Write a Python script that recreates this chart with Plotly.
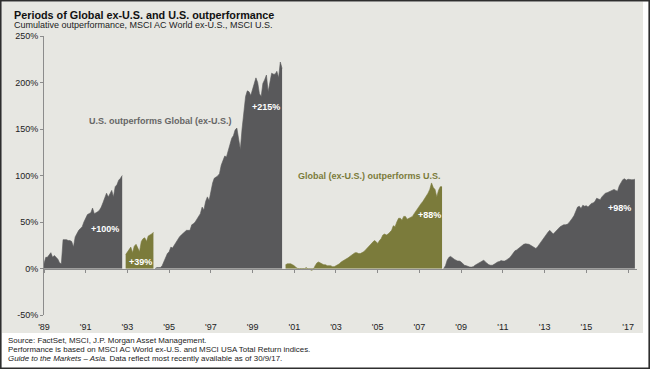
import plotly.graph_objects as go
import pandas as pd

# ---------------- data (cumulative relative outperformance, %) ----------------
# Each period resets to zero; monthly values.
us1_start = "1989-01-01"
us1_values = [5, 12, 12, 14, 17, 12, 14, 12, 10, 6, 5, 31, 31, 31, 30, 30, 29, 23,
              34, 38, 41, 43, 45, 50, 54, 58, 59, 60, 65, 59, 60, 61, 63, 66, 71,
              75, 81, 77, 81, 84, 77, 88, 90, 95, 97, 100]

gl1_start = "1992-12-01"
gl1_values = [15, 18, 20, 23, 17, 24, 26, 22, 18, 29, 32, 33, 29, 35, 36, 37, 39]

us2_start = "1994-05-01"
us2_values = [0, 1, 1, 1, 3, 8, 13, 16, 18, 23, 22, 25, 29, 31, 34, 36, 38, 40, 41,
              41, 41, 47, 48, 50, 53, 56, 59, 66, 63, 72, 77, 73, 84, 92, 97, 98,
              99.5, 102, 111, 116, 121, 120, 127, 131, 140, 143, 149, 151, 141, 128,
              150, 172, 185, 191, 190, 186, 193, 198, 205, 200, 188, 185, 199, 203,
              208, 190, 200, 210, 209, 209, 212, 205, 222, 215]

gl2_start = "2000-08-01"
gl2_values = [4, 5, 5, 5, 4, 3, 1, 0, -1, 0, -1, 0, 1, -1, -1, -2, -1, 3, 6, 7, 6, 5,
              4, 4, 3, 3, 3, 2, 2, 3, 4, 5, 7, 8, 9, 10, 11.5, 13, 14.5, 16, 17, 17,
              16, 16, 17, 18, 20, 22, 25, 27, 29, 30, 29, 27, 30, 32, 36, 37, 36, 37,
              39, 41, 46, 45, 50, 54, 54, 52, 56, 56, 53, 54, 55, 56, 59, 62, 64, 67,
              70, 72, 75, 77, 81, 85, 92, 87, 85, 77, 84, 88, 88]

us3_start = "2008-03-01"
us3_values = [0, 3, 9, 12, 13, 11, 10, 9, 8, 8, 7, 5, 3.5, 3, 2, 1.5, 1.5, 2, 3.5,
              4.5, 6, 7, 8, 9, 7, 5, 4, 3.5, 3.5, 4.5, 6, 7, 7.5, 8.5, 8, 8, 9, 10,
              11.5, 14, 16.5, 19, 20, 21.7, 23, 25, 26, 26.5, 26.5, 26, 25, 24, 23,
              21.5, 23.5, 26, 29, 32, 35, 37, 39, 41, 39, 37, 39, 41.4, 43, 45, 46,
              47, 47, 47.5, 49, 51, 54, 57, 62, 66, 67, 64.5, 68, 67, 67.5, 66, 68,
              70, 70.5, 72, 75.5, 75, 74, 77, 79, 81, 81.5, 82.6, 83.5, 84.4, 85,
              84, 83, 89, 93, 95.5, 96.5, 95, 96, 95.5, 95.5, 95.5, 96]

tick_dates = ["1989-01-01", "1991-01-01", "1993-01-01", "1995-01-01", "1997-01-01",
              "1999-01-01", "2001-01-01", "2003-01-01", "2005-01-01", "2007-01-01",
              "2009-01-01", "2011-01-01", "2013-01-01", "2015-01-01", "2017-01-01"]
tick_labels = ["'89", "'91", "'93", "'95", "'97", "'99", "'01", "'03", "'05", "'07",
               "'09", "'11", "'13", "'15", "'17"]
y_ticks = [-50, 0, 50, 100, 150, 200, 250]
y_tick_labels = ["-50%", "0%", "50%", "100%", "150%", "200%", "250%"]

US_COLOR = "#59595b"
GL_COLOR = "#7b7b3b"
PANEL = "#e7e7e2"
FONT = "Liberation Sans, Arial, sans-serif"
W, H = 650, 369

fig = go.Figure()
segments = [(us1_start, us1_values, US_COLOR), (gl1_start, gl1_values, GL_COLOR),
            (us2_start, us2_values, US_COLOR), (gl2_start, gl2_values, GL_COLOR),
            (us3_start, us3_values, US_COLOR)]
for start, vals, col in segments:
    dates = pd.date_range(start, periods=len(vals), freq="MS")
    fig.add_trace(go.Scatter(x=dates, y=vals, mode="lines", fill="tozeroy",
                             line=dict(color=col, width=0.6), fillcolor=col,
                             hoverinfo="skip", showlegend=False))

def px(x):
    return x / W

def py(y):
    return 1 - y / H

fig.update_layout(
    width=W, height=H,
    margin=dict(l=0, r=0, t=0, b=0, autoexpand=False),
    paper_bgcolor="white", plot_bgcolor="rgba(0,0,0,0)",
    font=dict(family=FONT, color="#222222"),
    showlegend=False,
    xaxis=dict(type="date", domain=[px(44), px(637)],
               range=["1989-01-01", "2017-06-07"],
               anchor="free", position=py(268.5), automargin=False,
               showline=True, linecolor="#8c8c8c", linewidth=1,
               ticks="outside", ticklen=3, tickcolor="#8c8c8c",
               tickvals=tick_dates, ticktext=tick_labels,
               tickfont=dict(size=9, color="#222222"),
               ticklabelstandoff=47,
               showgrid=False, zeroline=False),
    yaxis=dict(domain=[py(315), py(36)], range=[-50, 250], automargin=False,
               tickvals=y_ticks, ticktext=y_tick_labels,
               showline=True, linecolor="#8c8c8c", linewidth=1,
               ticks="outside", ticklen=3, tickcolor="#8c8c8c",
               tickfont=dict(size=9, color="#222222"),
               showgrid=False, zeroline=False),
)

# background panel and frame
fig.add_shape(type="rect", xref="paper", yref="paper", layer="below",
              x0=px(2), x1=px(643), y0=py(333), y1=py(1.5),
              fillcolor=PANEL, line=dict(width=0))
fig.add_shape(type="rect", xref="paper", yref="paper", layer="above",
              x0=px(0.8), x1=px(649.2), y0=py(368.2), y1=py(0.8),
              line=dict(color="#2e2e2e", width=1.6))

ann = []
ann.append(dict(text="<b>Periods of Global ex-U.S. and U.S. outperformance</b>",
                x=px(12), y=py(15.5), font=dict(size=10.8, color="#111111")))
ann.append(dict(text="Cumulative outperformance, MSCI AC World ex-U.S., MSCI U.S.",
                x=px(12), y=py(25.5), font=dict(size=9, color="#222222")))
ann.append(dict(text="Source: FactSet, MSCI, J.P. Morgan Asset Management.",
                x=px(6), y=py(340), font=dict(size=7.9, color="#222222")))
ann.append(dict(text="Performance is based on MSCI AC World ex-U.S. and MSCI USA Total Return indices.",
                x=px(6), y=py(349), font=dict(size=7.9, color="#222222")))
ann.append(dict(text="<i>Guide to the Markets – Asia.</i> Data reflect most recently available as of 30/9/17.",
                x=px(6), y=py(358), font=dict(size=7.9, color="#222222")))
for a in ann:
    fig.add_annotation(xref="paper", yref="paper", xanchor="left", yanchor="middle",
                       showarrow=False, **{k: v for k, v in a.items()})

# in-chart labels (data coordinates)
labels = [
    ("<b>U.S. outperforms Global (ex-U.S.)</b>", "1994-08-01", 158.6, "#666666"),
    ("<b>Global (ex-U.S.) outperforms U.S.</b>", "2004-08-10", 99.8, GL_COLOR),
    ("<b>+100%</b>", "1991-12-01", 42.2, "white"),
    ("<b>+39%</b>", "1993-08-20", 7.0, "white"),
    ("<b>+215%</b>", "1999-08-20", 174.0, "white"),
    ("<b>+88%</b>", "2007-06-25", 57.5, "white"),
    ("<b>+98%</b>", "2016-08-01", 65.4, "white"),
]
for text, x, y, col in labels:
    fig.add_annotation(x=x, y=y, text=text, showarrow=False, xanchor="center",
                       yanchor="middle", font=dict(size=9, color=col))

# remove the browser's default page margin so the figure fills the window exactly
fig.write_html("out.html", config={"displayModeBar": False},
               post_script="document.body.style.margin='0';document.body.style.overflow='hidden';")
